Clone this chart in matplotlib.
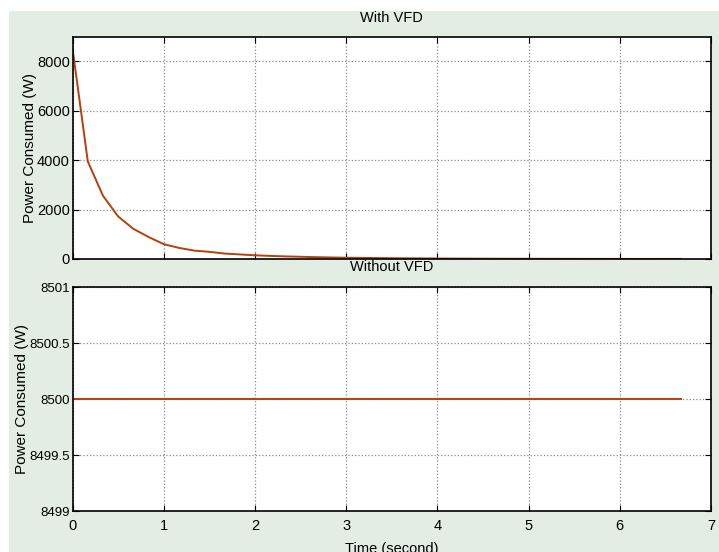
import numpy as np
import matplotlib
matplotlib.use("Agg")
import matplotlib.pyplot as plt
from matplotlib.patches import Rectangle
from matplotlib.ticker import FuncFormatter

plt.rcParams['font.family'] = ['Liberation Sans', 'DejaVu Sans']

# sample times (s) and power with VFD (W)
t = np.arange(41) / 6.0
p_vfd = [8500, 3950, 2560, 1720, 1220, 890, 600, 450, 340, 290, 220,
         185, 150, 125, 105, 90, 75, 62, 52, 45, 38, 32, 28, 24, 20,
         17, 15, 13, 11, 10, 9, 8, 7, 6, 5, 5, 4, 4, 3, 3, 3]
# without VFD the motor runs flat out
p_novfd = [8500] * len(t)

top_yticks = [0, 2000, 4000, 6000, 8000]
bot_yticks = [8499, 8499.5, 8500, 8500.5, 8501]
xticks = [0, 1, 2, 3, 4, 5, 6, 7]

W, H = 719, 552
fig = plt.figure(figsize=(W / 100, H / 100), dpi=100, facecolor='white')
bg = '#e3ede4'
fig.patches.append(Rectangle((9 / W, 0), 1, 1 - 11 / H, transform=fig.transFigure,
                             facecolor=bg, edgecolor='none', zorder=-10))

line_c = '#b5400c'
left = 72.6 / W
width = 638.4 / W
ax1 = fig.add_axes([left, 1 - 259 / H, width, (259 - 36.7) / H])
ax2 = fig.add_axes([left, 1 - 511 / H, width, (511 - 287) / H])

for ax in (ax1, ax2):
    ax.set_facecolor('white')
    ax.set_xlim(0, 7)
    ax.set_xticks(xticks)
    ax.grid(True, color='#8a8a8a', linestyle=':', linewidth=0.9)
    ax.tick_params(direction='in', length=4, top=True, right=True,
                   labelsize=10.5, width=0.8, pad=2)
    ax.tick_params(axis='x', pad=6)
    for s in ax.spines.values():
        s.set_linewidth(1.2)
        s.set_color('black')
    ax.set_axisbelow(True)

ax1.plot(t, p_vfd, color=line_c, linewidth=1.4)
ax1.set_ylim(0, 9000)
ax1.set_yticks(top_yticks)
ax1.tick_params(labelbottom=False)
ax1.set_ylabel('Power Consumed (W)', fontsize=11)
ax1.yaxis.set_label_coords(-0.055, 0.5)

ax2.plot(t, p_novfd, color=line_c, linewidth=1.4)
ax2.set_ylim(8499, 8501)
ax2.set_yticks(bot_yticks)
ax2.yaxis.set_major_formatter(FuncFormatter(lambda v, pos: '%g' % v))
ax2.tick_params(axis='y', labelsize=9.5)
ax2.set_ylabel('Power Consumed (W)', fontsize=11)
ax2.yaxis.set_label_coords(-0.069, 0.5)

cx = (left + width / 2)
fig.text(cx, 1 - 18 / H, 'With VFD', ha='center', va='center', fontsize=10.5)
fig.text(cx, 1 - 267 / H, 'Without VFD', ha='center', va='center', fontsize=10.5)
fig.text(cx, 1 - 549 / H, 'Time (second)', ha='center', va='center', fontsize=10.5)

fig.savefig('out.png', dpi=100, facecolor=fig.get_facecolor())
